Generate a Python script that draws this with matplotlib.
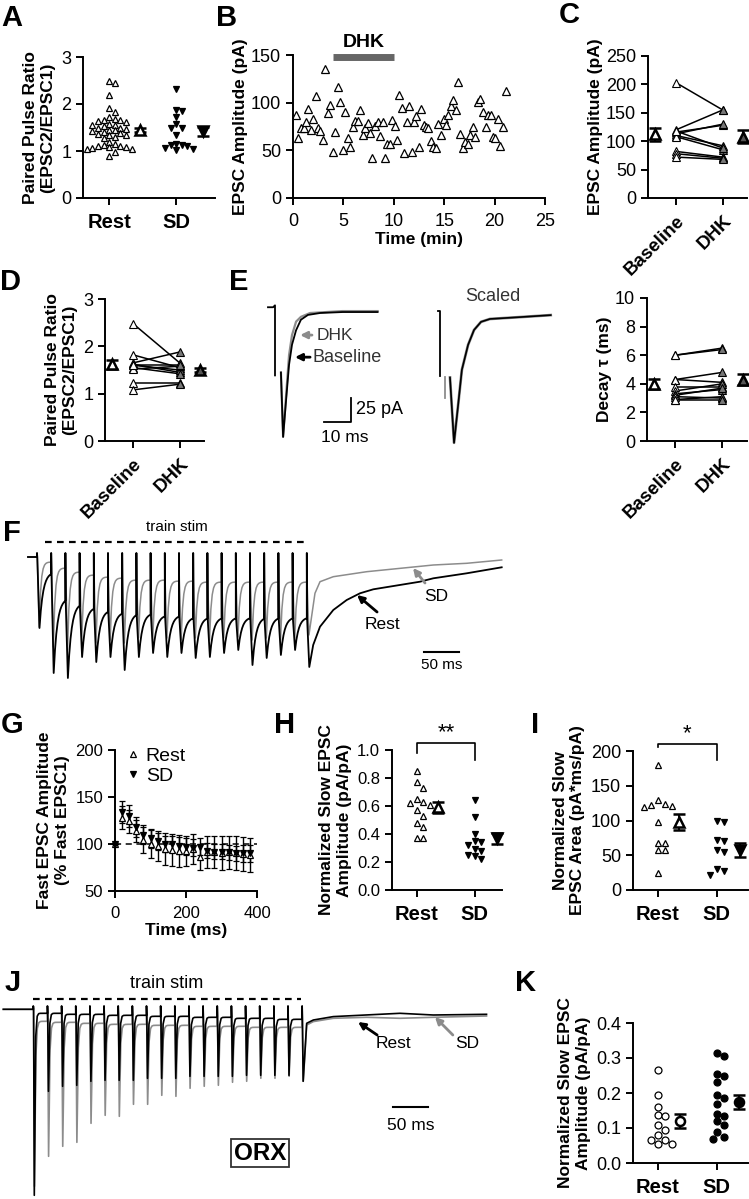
import numpy as np
import matplotlib
matplotlib.use("Agg")
import matplotlib.pyplot as plt

plt.rcParams['font.family'] = ['Liberation Sans', 'DejaVu Sans']
plt.rcParams['axes.linewidth'] = 1.4
plt.rcParams['xtick.major.width'] = 1.4
plt.rcParams['ytick.major.width'] = 1.4
plt.rcParams['xtick.major.size'] = 5
plt.rcParams['ytick.major.size'] = 5
plt.rcParams['xtick.labelsize'] = 13
plt.rcParams['ytick.labelsize'] = 13
plt.rcParams['xtick.major.pad'] = 5.5
plt.rcParams['ytick.major.pad'] = 3.5

# ---------------- data ----------------
# A: paired pulse ratio
a_rest = [2.5, 2.45, 2.2, 1.92, 1.82, 1.72, 1.68, 1.66, 1.65, 1.64, 1.62, 1.58, 1.56, 1.55,
          1.53, 1.5, 1.49, 1.47, 1.45, 1.44, 1.42, 1.4, 1.38, 1.36, 1.35, 1.33, 1.3, 1.28,
          1.2, 1.15, 1.12, 1.1, 1.1, 1.08, 1.08, 1.06, 1.05, 1.04, 0.98, 0.9]
a_sd = [2.32, 1.88, 1.85, 1.72, 1.58, 1.5, 1.48, 1.35, 1.15, 1.13, 1.12, 1.1, 1.07, 1.05, 1.02]
a_mean = [1.45, 1.42]
a_sem = [0.05, 0.1]

# B: EPSC amplitude time course
b_time = [0.26, 0.52, 0.82, 1.08, 1.3, 1.5, 1.74, 2.0, 2.26, 2.5,
          2.72, 2.98, 3.2, 3.44, 3.7, 3.93, 4.2, 4.43, 4.69, 4.92,
          5.18, 5.44, 5.7, 5.93, 6.2, 6.4, 6.65, 6.9, 7.15, 7.4,
          7.64, 7.87, 8.13, 8.4, 8.6, 8.88, 9.1, 9.37, 9.6, 9.84,
          10.1, 10.33, 10.56, 10.8, 11.05, 11.3, 11.5, 11.8, 12.0, 12.25,
          12.5, 12.7, 12.95, 13.2, 13.4, 13.7, 13.93, 14.2, 14.4, 14.7,
          14.95, 15.2, 15.4, 15.67, 15.9, 16.15, 16.4, 16.6, 16.9, 17.1,
          17.4, 17.6, 17.9, 18.1, 18.36, 18.6, 18.85, 19.1, 19.34, 19.6,
          19.84, 20.07, 20.3, 20.5, 20.8, 21.1]
b_amp = [87, 63, 73, 73, 80, 93, 71, 83, 107, 73,
         70, 61, 135, 89, 98, 48, 69, 116, 101, 50,
         90, 63, 53, 75, 81, 81, 92, 66, 73, 79,
         68, 42, 76, 80, 65, 80, 42, 57, 57, 82,
         76, 61, 108, 94, 47, 80, 97, 48, 80, 86,
         53, 93, 77, 74, 73, 60, 53, 52, 78, 66,
         83, 77, 87, 97, 103, 92, 122, 67, 52, 59,
         57, 66, 74, 64, 101, 104, 90, 75, 87, 87,
         64, 63, 83, 55, 75, 112]
dhk_on, dhk_off = 4, 10

# C: EPSC amplitude baseline vs DHK
c_base = [203, 120, 116, 113, 110, 108, 82, 78, 72, 118]
c_dhk = [155, 155, 128, 130, 92, 85, 72, 70, 68, 88]
c_mean = [112, 108]
c_sem = [12, 11]

# D: PPR baseline vs DHK
d_base = [2.48, 1.82, 1.65, 1.62, 1.6, 1.55, 1.52, 1.22, 1.08, 1.6]
d_dhk = [1.65, 1.55, 1.88, 1.45, 1.5, 1.42, 1.58, 1.22, 1.2, 1.6]
d_mean = [1.62, 1.5]
d_sem = [0.1, 0.04]

# E: decay tau baseline vs DHK
e_base = [6.0, 6.0, 4.3, 4.3, 3.8, 3.5, 3.3, 3.2, 3.1, 2.9, 2.9]
e_dhk = [6.5, 6.4, 4.8, 4.1, 3.8, 4.0, 3.6, 3.7, 3.0, 3.1, 2.9]
e_mean = [4.0, 4.3]
e_sem = [0.35, 0.4]

# E traces (ms, pA)
e_art_t = [-2.6, -0.7, 0, 0]
e_art_i = [6, 6, 8, -65]
e_base_t = [2.2, 3.0, 4.1, 5.2, 6.3, 7.8, 9.6, 12.2, 16.7, 25, 38]
e_base_i = [-62, -129, -91, -54, -33, -18, -7, -2, 0, 1, 1]
e_dhk_t = [2.2, 3.0, 4.1, 5.2, 6.3, 7.8, 9.6, 13, 25, 38]
e_dhk_i = [-62, -129, -86, -44, -23, -9, -4, 0, 2, 2]
es_art_t = [-0.7, 0, 0]
es_art_i = [7, 7, -60]
es_t = [3.7, 5.2, 6.7, 8.1, 10.4, 12.6, 15.2, 18.5, 30, 41]
es_i = [-62, -130, -91, -54, -28, -12.5, -4, -1, 1, 3]

# F: train stimulation traces (ms, arbitrary units)
stim_t = [0, 20, 40, 60, 80, 100, 120, 140, 160, 180,
          200, 220, 240, 260, 280, 300, 320, 340, 360, 380]
f_rest_peak = [-71, -116, -121, -100, -105, -100, -113, -100, -96, -100,
               -96, -101, -100, -96, -93, -108, -101, -98, -93, -110]
f_rest_level = [-15, -41, -46, -50, -53, -55, -56, -56, -58, -58,
                -60, -60, -60, -60, -60, -60, -60, -60, -60]
f_sd_peak = [-70, -90, -93, -83, -86, -83, -86, -81, -83, -81,
             -83, -81, -83, -81, -80, -83, -81, -83, -81, -78]
f_sd_level = [-5, -11, -15, -18, -20, -21, -23, -23, -23, -24,
              -24, -25, -25, -25, -25, -25, -25, -25, -25]
f_rest_tail_t = [389, 398.6, 417.3, 436.2, 454.9, 473.7, 511.3, 539.4, 558.2, 605.2, 654.5]
f_rest_tail_i = [-88, -69.7, -53, -43, -36.3, -32.3, -28, -24.7, -21.3, -16.3, -10.3]
f_sd_tail_t = [391.5, 398.6, 417.3, 464.3, 511.3, 558.2, 605.2, 654.5]
f_sd_tail_i = [-36.3, -24.7, -19.7, -14.7, -11.3, -8, -6.3, -3]

# G: fast EPSC amplitude during train
g_time = stim_t
g_rest = [100, 128, 124, 114, 104, 100, 98, 95, 94, 93, 93, 95, 86, 92, 91, 90, 91, 90, 89, 88]
g_rest_err = [0, 12, 12, 12, 14, 15, 16, 17, 17, 17, 16, 16, 14, 17, 17, 18, 18, 18, 18, 18]
g_sd = [100, 134, 130, 118, 110, 106, 103, 100, 100, 98, 97, 96, 97, 93, 92, 92, 91, 90, 90, 90]
g_sd_err = [0, 12, 12, 11, 10, 10, 9, 9, 9, 9, 9, 9, 9, 8, 8, 8, 8, 8, 9, 9]

# H: normalized slow EPSC amplitude
h_rest = [0.85, 0.77, 0.73, 0.65, 0.63, 0.62, 0.61, 0.57, 0.53, 0.48, 0.45, 0.37, 0.37]
h_sd = [0.64, 0.52, 0.4, 0.35, 0.34, 0.32, 0.29, 0.28, 0.25, 0.24, 0.22]
h_mean = [0.59, 0.37]
h_sem = [0.04, 0.04]

# I: normalized slow EPSC area
i_rest = [180, 130, 124, 122, 121, 120, 98, 68, 68, 57, 57, 25]
i_sd = [100, 98, 72, 70, 57, 55, 30, 28, 22]
i_mean = [98, 58]
i_sem = [12, 10]

# J: ORX train traces
j_rest_peak = [-186, -82, -77, -76, -72, -71, -71, -71, -69, -69,
               -69, -67, -67, -67, -67, -66, -66, -66, -66, -72]
j_sd_peak = [-177, -147, -137, -133, -114, -106, -107, -95, -95, -86,
             -87, -79, -77, -76, -73, -72, -69, -69, -67, -72]
j_rest_level = [-4, -4, -5, -5, -5, -6, -6, -6, -7, -7,
                -7, -8, -8, -8, -9, -9, -9, -10, -10]
j_sd_level = [-12, -13, -13, -14, -14, -15, -15, -15, -16, -16,
              -16, -17, -17, -17, -17, -18, -18, -18, -18]
j_rest_tail_t = [386.4, 395.8, 424, 471.1, 518.2, 565.3, 640.6]
j_rest_tail_i = [-14, -10.7, -7.3, -5.7, -4, -5.7, -5]
j_sd_tail_t = [386.4, 395.8, 424, 471.1, 518.2, 565.3, 640.6]
j_sd_tail_i = [-15.7, -12.3, -9, -8, -9, -8, -6.7]

# K: ORX normalized slow EPSC amplitude
k_rest = [0.265, 0.195, 0.16, 0.137, 0.135, 0.11, 0.095, 0.08, 0.065, 0.065, 0.055, 0.055]
k_sd = [0.315, 0.305, 0.253, 0.25, 0.232, 0.193, 0.185, 0.168, 0.14, 0.135, 0.12,
        0.108, 0.09, 0.075, 0.07]
k_mean = [0.12, 0.175]
k_sem = [0.02, 0.02]

# ---------------- helpers ----------------
W, H = 749, 1199
fig = plt.figure(figsize=(W / 100, H / 100), dpi=100)
GRAY = '#8c8c8c'
LAB = 12.5   # axis label size


def box(l, t, r, b):
    return fig.add_axes([l / W, 1 - b / H, (r - l) / W, (b - t) / H])


def trace_ax(l, t, r, b, x0, y0, sx, sy):
    ax = box(l, t, r, b)
    ax.set_xlim((l - x0) / sx, (r - x0) / sx)
    ax.set_ylim((y0 - b) / sy, (y0 - t) / sy)
    ax.axis('off')
    return ax


def style(ax):
    for s in ['top', 'right']:
        ax.spines[s].set_visible(False)
    ax.tick_params(direction='out')


def letter(x, y, s):
    fig.text(x / W, 1 - y / H, s, fontsize=21, fontweight='bold', va='top', ha='left')


def swarm(vals, ypx, xpx, d=7.0):
    placed, offs = [], []
    for v in vals:
        y = v * ypx
        cands = [0.0] + [s * k * d / 2 for k in range(1, 40) for s in (1, -1)]
        for c in cands:
            if all((c - px) ** 2 + (y - py) ** 2 >= d * d for px, py in placed):
                break
        placed.append((c, y))
        offs.append(c / xpx)
    return np.array(offs)


def cat_labels(ax, labels, rotate=False):
    ax.set_xticks([0, 1])
    if rotate:
        ax.set_xticklabels(labels, rotation=45, ha='right', rotation_mode='anchor',
                           fontweight='bold', fontsize=13.5)
    else:
        ax.set_xticklabels(labels, fontweight='bold', fontsize=14.5)


def mean_pt(ax, x, m, e, marker, fc, ms=7.5, mew=1.8):
    ax.errorbar([x], [m], yerr=[e], fmt=marker, ms=ms, mfc=fc, mec='k', mew=mew,
                ecolor='k', elinewidth=1.4, capsize=4, capthick=1.4, clip_on=False, zorder=5)


def group_plot(ax, rest, sd, ypx, xpx, m1, m2, mean, sem, open_m, fill_m, d, ms=5):
    ax.plot(swarm(rest, ypx, xpx, d), rest, open_m, ms=ms, mfc='white', mec='k', mew=0.9,
            ls='none', clip_on=False)
    ax.plot(1 + swarm(sd, ypx, xpx, d), sd, fill_m, ms=ms, mfc='k', mec='k', mew=0.9,
            ls='none', clip_on=False)
    mean_pt(ax, m1, mean[0], sem[0], open_m, 'white')
    mean_pt(ax, m2, mean[1], sem[1], fill_m, 'k')


def paired_plot(ax, base, dhk, mean, sem):
    for b, d in zip(base, dhk):
        ax.plot([0, 1], [b, d], color='k', lw=1.1, zorder=2)
    ax.plot([0] * len(base), base, '^', ms=5.5, mfc='white', mec='k', mew=0.8, ls='none',
            zorder=3, clip_on=False)
    ax.plot([1] * len(dhk), dhk, '^', ms=5.5, mfc='#777777', mec='k', mew=0.8, ls='none',
            zorder=3, clip_on=False)
    mean_pt(ax, -0.45, mean[0], sem[0], '^', 'white', ms=7)
    mean_pt(ax, 1.43, mean[1], sem[1], '^', '#555555', ms=7)
    ax.set_xlim(-0.6, 1.52)
    cat_labels(ax, ['Baseline', 'DHK'], rotate=True)


def train_trace(t_pre, stims, peaks, levels, tail_t, tail_i, top, tpk, tau, nseg=10):
    ts, ys = [t_pre, stims[0]], [0.0, 0.0]
    prev = 0.0
    for k, t0 in enumerate(stims):
        ts += [t0, t0 + 0.4, t0 + tpk]
        ys += [top, prev, peaks[k]]
        if k < len(levels):
            s = np.linspace(0, stims[k + 1] - t0 - tpk, nseg)
            ts += list(t0 + tpk + s[1:])
            ys += list(levels[k] + (peaks[k] - levels[k]) * np.exp(-s[1:] / tau))
            prev = ys[-1]
        else:
            ts += list(tail_t)
            ys += list(tail_i)
    return ts, ys


def arrow(ax, head, tail, color):
    ax.annotate('', xy=head, xytext=tail,
                arrowprops=dict(arrowstyle='-|>', color=color, lw=2, mutation_scale=10,
                                shrinkA=0, shrinkB=0))


# ---------------- A ----------------
ax = box(83, 57, 215, 198)
style(ax)
group_plot(ax, a_rest, a_sd, 47, 67, 0.46, 1.4, a_mean, a_sem, '^', 'v', d=5.6)
ax.set_xlim(-0.39, 1.58)
ax.set_ylim(0, 3)
ax.set_yticks([0, 1, 2, 3])
cat_labels(ax, ['Rest', 'SD'])
ax.set_ylabel('Paired Pulse Ratio\n(EPSC2/EPSC1)', fontweight='bold', fontsize=LAB)
letter(1, 4, 'A')

# ---------------- B ----------------
ax = box(293, 55, 545, 198)
style(ax)
ax.plot(b_time, b_amp, '^', ms=5.5, mfc='white', mec='k', mew=0.9, ls='none')
ax.plot([dhk_on, dhk_off], [148, 148], color='#666666', lw=5, solid_capstyle='butt',
        clip_on=False)
ax.text((dhk_on + dhk_off) / 2, 154, 'DHK', ha='center', va='bottom', fontweight='bold',
        fontsize=14)
ax.set_xlim(0, 25)
ax.set_ylim(0, 150)
ax.set_xticks([0, 5, 10, 15, 20, 25])
ax.set_yticks([0, 50, 100, 150])
ax.set_xlabel('Time (min)', fontweight='bold', fontsize=LAB, labelpad=2)
ax.set_ylabel('EPSC Amplitude (pA)', fontweight='bold', fontsize=LAB, labelpad=2)
letter(216, 4, 'B')

# ---------------- C ----------------
ax = box(648, 56, 747, 198)
style(ax)
paired_plot(ax, c_base, c_dhk, c_mean, c_sem)
ax.set_ylim(0, 250)
ax.set_yticks([0, 50, 100, 150, 200, 250])
ax.set_ylabel('EPSC Amplitude (pA)', fontweight='bold', fontsize=LAB, labelpad=2)
letter(559, 1, 'C')

# ---------------- D ----------------
ax = box(105, 299, 204, 441)
style(ax)
paired_plot(ax, d_base, d_dhk, d_mean, d_sem)
ax.set_ylim(0, 3)
ax.set_yticks([0, 1, 2, 3])
ax.set_ylabel('Paired Pulse Ratio\n(EPSC2/EPSC1)', fontweight='bold', fontsize=LAB)
letter(0, 268, 'D')

# ---------------- E traces ----------------
ax = trace_ax(262, 288, 392, 452, 275, 313, 2.7, 0.96)
ax.plot(e_dhk_t, e_dhk_i, color=GRAY, lw=1.6)
ax.plot(e_base_t, e_base_i, color='k', lw=1.3)
ax.plot(e_art_t, e_art_i, color='k', lw=1.3)
ax.plot([28.1, 28.1, 18.1], [-88.5, -113.5, -113.5], color='k', lw=1.3)
ax.text(30, -101, '25 pA', ha='left', va='center', fontsize=13)
ax.text(26, -130, '10 ms', ha='center', va='center', fontsize=12.5)
arrow(ax, (9.3, -23), (13.7, -23), GRAY)
ax.text(15.4, -23, 'DHK', ha='left', va='center', fontsize=12.5, color='#333333')
arrow(ax, (7.4, -46), (13, -46), 'k')
ax.text(14, -46, 'Baseline', ha='left', va='center', fontsize=13, color='#333333')

ax = trace_ax(430, 288, 560, 452, 440, 318, 2.7, 0.96)
ax.plot(es_t, es_i, color=GRAY, lw=2.0)
ax.plot([1.85, 1.85], [-61, -83], color=GRAY, lw=1.3)
ax.plot(es_t, es_i, color='k', lw=1.2)
ax.plot(es_art_t, es_art_i, color='k', lw=1.3)
ax.text(19.6, 22, 'Scaled', ha='center', va='center', fontsize=13, color='#333333')
letter(229, 268, 'E')

# ---------------- E decay ----------------
ax = box(647, 298, 747, 441)
style(ax)
paired_plot(ax, e_base, e_dhk, e_mean, e_sem)
ax.set_ylim(0, 10)
ax.set_yticks([0, 2, 4, 6, 8, 10])
ax.set_ylabel('Decay \u03c4 (ms)', fontweight='bold', fontsize=LAB, labelpad=2)

# ---------------- F ----------------
ax = trace_ax(20, 515, 510, 685, 37, 557, 0.71, 1.0)
t, y = train_trace(-12.7, stim_t, f_sd_peak, f_sd_level, f_sd_tail_t, f_sd_tail_i, 4, 3.0, 2.5)
ax.plot(t, y, color=GRAY, lw=1.1)
t, y = train_trace(-12.7, stim_t, f_rest_peak, f_rest_level, f_rest_tail_t, f_rest_tail_i,
                   4, 3.5, 5.0)
ax.plot(t, y, color='k', lw=1.3)
ax.plot([11.3, 381.7], [15, 15], color='k', lw=1.6, ls=(0, (3, 2.4)))
ax.text(197, 30, 'train stim', ha='center', va='center', fontsize=11)
ax.text(487, -68, 'Rest', ha='center', va='center', fontsize=12.5)
arrow(ax, (450.7, -38), (479, -55), 'k')
ax.text(563, -40, 'SD', ha='center', va='center', fontsize=12.5)
arrow(ax, (529.6, -11), (546.5, -26), GRAY)
ax.plot([545, 595], [-95, -95], color='k', lw=1.5)
ax.text(570, -108, '50 ms', ha='center', va='center', fontsize=11)
letter(3, 519, 'F')

# ---------------- G ----------------
ax = box(115, 750, 257, 891)
style(ax)
ax.tick_params(labelsize=12)
ax.axhline(100, color='k', lw=1.1, ls=(0, (4, 3)), zorder=1)
ax.errorbar(g_time, g_rest, yerr=g_rest_err, fmt='^', ms=5, mfc='white', mec='k', mew=0.9,
            ecolor='k', elinewidth=1.0, capsize=2.5, capthick=1.0, label='Rest', clip_on=False)
ax.errorbar(g_time, g_sd, yerr=g_sd_err, fmt='v', ms=5, mfc='k', mec='k', mew=0.9,
            ecolor='k', elinewidth=1.0, capsize=2.5, capthick=1.0, label='SD', clip_on=False)
ax.set_xlim(0, 400)
ax.set_ylim(50, 200)
ax.set_xticks([0, 200, 400])
ax.set_yticks([50, 100, 150, 200])
ax.set_xlabel('Time (ms)', fontweight='bold', fontsize=LAB, labelpad=2)
ax.set_ylabel('Fast EPSC Amplitude\n(% Fast EPSC1)', fontweight='bold', fontsize=LAB)
h_, l_ = ax.get_legend_handles_labels()
ax.legend([hh[0] for hh in h_], l_, loc='upper left', bbox_to_anchor=(-0.01, 1.09),
          frameon=False, fontsize=14, handletextpad=0.15, handlelength=1.0, borderpad=0,
          labelspacing=0.15, markerscale=0.75)
letter(1, 711, 'G')

# ---------------- H ----------------
ax = box(392, 750, 502, 890)
style(ax)
ax.tick_params(axis='y', labelsize=12)
group_plot(ax, h_rest, h_sd, 140, 58, 0.36, 1.38, h_mean, h_sem, '^', 'v', d=6.5)
ax.plot([0, 0, 1, 1], [0.98, 1.05, 1.05, 0.93], color='k', lw=1.2, clip_on=False)
ax.text(0.5, 1.05, '**', ha='center', va='bottom', fontsize=16)
ax.set_xlim(-0.43, 1.47)
ax.set_ylim(0, 1.0)
ax.set_yticks([0, 0.2, 0.4, 0.6, 0.8, 1.0])
ax.set_yticklabels(['0.0', '0.2', '0.4', '0.6', '0.8', '1.0'])
cat_labels(ax, ['Rest', 'SD'])
ax.set_ylabel('Normalized Slow EPSC\nAmplitude (pA/pA)', fontweight='bold', fontsize=LAB)
letter(274, 711, 'H')

# ---------------- I ----------------
ax = box(633, 751, 748, 890)
style(ax)
group_plot(ax, i_rest, i_sd, 0.695, 59, 0.36, 1.39, i_mean, i_sem, '^', 'v', d=7)
ax.plot([0, 0, 1, 1], [206, 210.5, 210.5, 187], color='k', lw=1.2, clip_on=False)
ax.text(0.5, 210, '*', ha='center', va='bottom', fontsize=16)
ax.set_xlim(-0.42, 1.53)
ax.set_ylim(0, 200)
ax.set_yticks([0, 50, 100, 150, 200])
cat_labels(ax, ['Rest', 'SD'])
ax.set_ylabel('Normalized Slow\nEPSC Area (pA*ms/pA)', fontweight='bold', fontsize=LAB)
letter(531, 711, 'I')

# ---------------- J ----------------
ax = trace_ax(0, 975, 495, 1199, 33.3, 1009.3, 0.7075, 1.0)
t, y = train_trace(-42.4, stim_t, j_sd_peak, j_sd_level, j_sd_tail_t, j_sd_tail_i, 3.3, 1.6, 1.3)
ax.plot(t, y, color=GRAY, lw=1.2)
t, y = train_trace(-42.4, stim_t, j_rest_peak, j_rest_level, j_rest_tail_t, j_rest_tail_i,
                   3.3, 1.4, 1.0)
ax.plot(t, y, color='k', lw=1.2)
ax.plot([-1, 379], [10.3, 10.3], color='k', lw=1.6, ls=(0, (3, 2.4)))
ax.text(189, 26, 'train stim', ha='center', va='center', fontsize=13)
ax.text(508.5, -33.7, 'Rest', ha='center', va='center', fontsize=12.5)
arrow(ax, (459, -12.7), (486, -25.7), 'k')
ax.text(613, -33.7, 'SD', ha='center', va='center', fontsize=12.5)
arrow(ax, (567.7, -7.7), (593, -25.7), GRAY)
ax.plot([508.4, 558.4], [-97.7, -97.7], color='k', lw=1.5)
ax.text(533, -116, '50 ms', ha='center', va='center', fontsize=12.5)
ax.text(320, -143.7, 'ORX', ha='center', va='center', fontsize=17.5, fontweight='bold',
        bbox=dict(boxstyle='square,pad=0.12', fc='white', ec='#333333', lw=1.3))
letter(5, 969, 'J')

# ---------------- K ----------------
ax = box(633, 1023, 748, 1163)
style(ax)
ax.plot(swarm(k_rest, 350, 59, 7), k_rest, 'o', ms=5, mfc='white', mec='k', mew=0.9,
        ls='none')
ax.plot(1 + swarm(k_sd, 350, 59, 7), k_sd, 'o', ms=5, mfc='k', mec='k', mew=0.9, ls='none')
mean_pt(ax, 0.37, k_mean[0], k_sem[0], 'o', 'white', ms=6.5)
mean_pt(ax, 1.37, k_mean[1], k_sem[1], 'o', 'k', ms=6.5)
ax.set_xlim(-0.42, 1.53)
ax.set_ylim(0, 0.4)
ax.set_yticks([0, 0.1, 0.2, 0.3, 0.4])
ax.set_yticklabels(['0.0', '0.1', '0.2', '0.3', '0.4'])
cat_labels(ax, ['Rest', 'SD'])
ax.set_ylabel('Normalized Slow EPSC\nAmplitude (pA/pA)', fontweight='bold', fontsize=LAB)
letter(515, 969, 'K')

fig.savefig('out.png', dpi=100)
